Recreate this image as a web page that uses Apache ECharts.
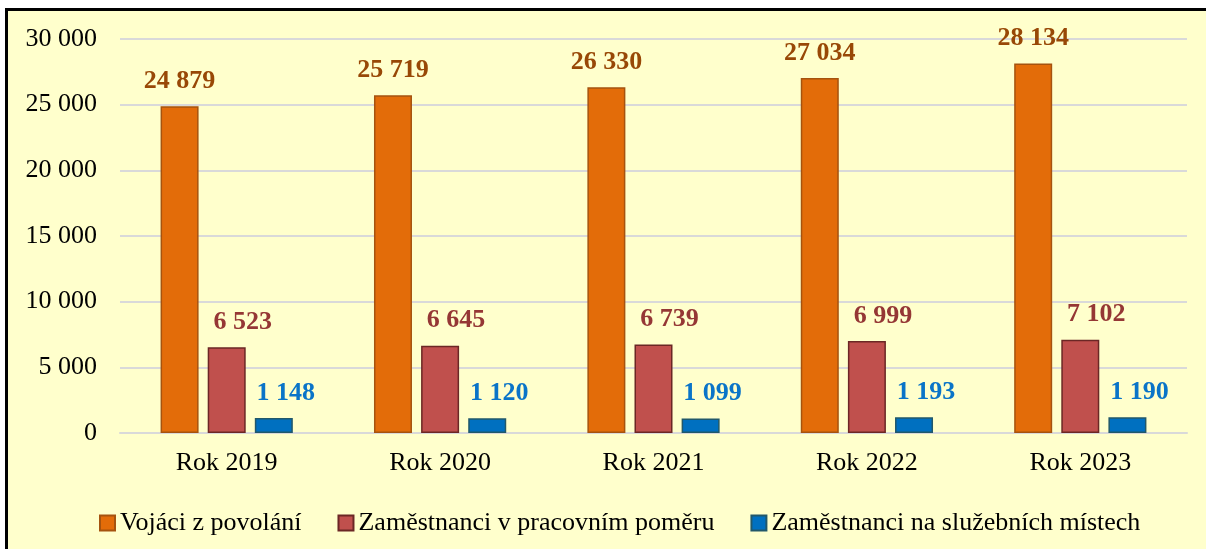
<!DOCTYPE html>
<html>
<head>
<meta charset="utf-8">
<script src="https://cdn.jsdelivr.net/npm/echarts@6/dist/echarts.min.js"></script>
<style>
    html, body { margin: 0; padding: 0; background: #ffffff; overflow: hidden; width: 1206px; height: 549px; }
    #frame { position: absolute; left: 5px; top: 8px; width: 1300px; height: 600px;
             border-left: 3px solid #000; border-top: 3px solid #000; background: #FFFFCC; }
    #main { width: 1201px; height: 541px; }
</style>
</head>
<body>
<div id="frame"><div id="main"></div></div>
<script>
    var years = ['Rok 2019', 'Rok 2020', 'Rok 2021', 'Rok 2022', 'Rok 2023'];
    var vojaci_val = [24879, 25719, 26330, 27034, 28134];
    var pracovni_val = [6523, 6645, 6739, 6999, 7102];
    var sluzebni_val = [1148, 1120, 1099, 1193, 1190];
    var names = ['Vojáci z povolání', 'Zaměstnanci v pracovním poměru', 'Zaměstnanci na služebních místech'];

    var font = 'Liberation Serif, Times New Roman, serif';

    //čísla s mezerou mezi tisíci
    function fmt(v) {
        return String(v).replace(/\B(?=(\d{3})+(?!\d))/g, ' ');
    }

    function barSeries(name, vals, fill, border, labelColor, dx) {
        return {
            name: name,
            type: 'bar',
            data: vals,
            barWidth: 38,
            barGap: '24%',
            itemStyle: { color: fill, borderColor: border, borderWidth: 1.5 },
            label: {
                show: true,
                position: 'top',
                distance: 12,
                offset: [dx, 0],
                color: labelColor,
                fontFamily: font,
                fontWeight: 'bold',
                fontSize: 26,
                formatter: function (p) { return fmt(p.value); }
            }
        };
    }

    var myChart = echarts.init(document.getElementById('main'));
    var option = {
        backgroundColor: '#FFFFCC',
        animation: false,
        grid: { left: 112, right: 22, top: 28, bottom: 119 },
        legend: {
            top: 494,
            left: 86,
            icon: 'rect',
            itemWidth: 15,
            itemHeight: 15,
            itemGap: 36,
            data: names,
            textStyle: { fontFamily: font, fontSize: 26, color: '#000' }
        },
        xAxis: {
            type: 'category',
            data: years,
            axisLine: { lineStyle: { color: '#D9D9D9', width: 2 } },
            axisTick: { show: false },
            axisLabel: { fontFamily: font, fontSize: 26, color: '#000', margin: 17 }
        },
        yAxis: {
            type: 'value',
            min: 0,
            max: 30000,
            interval: 5000,
            splitLine: { lineStyle: { color: '#D9D9D9', width: 2 } },
            axisLabel: {
                fontFamily: font, fontSize: 26, color: '#000', margin: 23,
                formatter: function (v) { return fmt(v); }
            }
        },
        series: [
            barSeries(names[0], vojaci_val, '#E36C09', '#A5530F', '#984806', 0),
            barSeries(names[1], pracovni_val, '#C0504D', '#6B2725', '#953735', 16),
            barSeries(names[2], sluzebni_val, '#0070C0', '#22586A', '#0A74C8', 12)
        ]
    };
    myChart.setOption(option);
</script>
</body>
</html>
